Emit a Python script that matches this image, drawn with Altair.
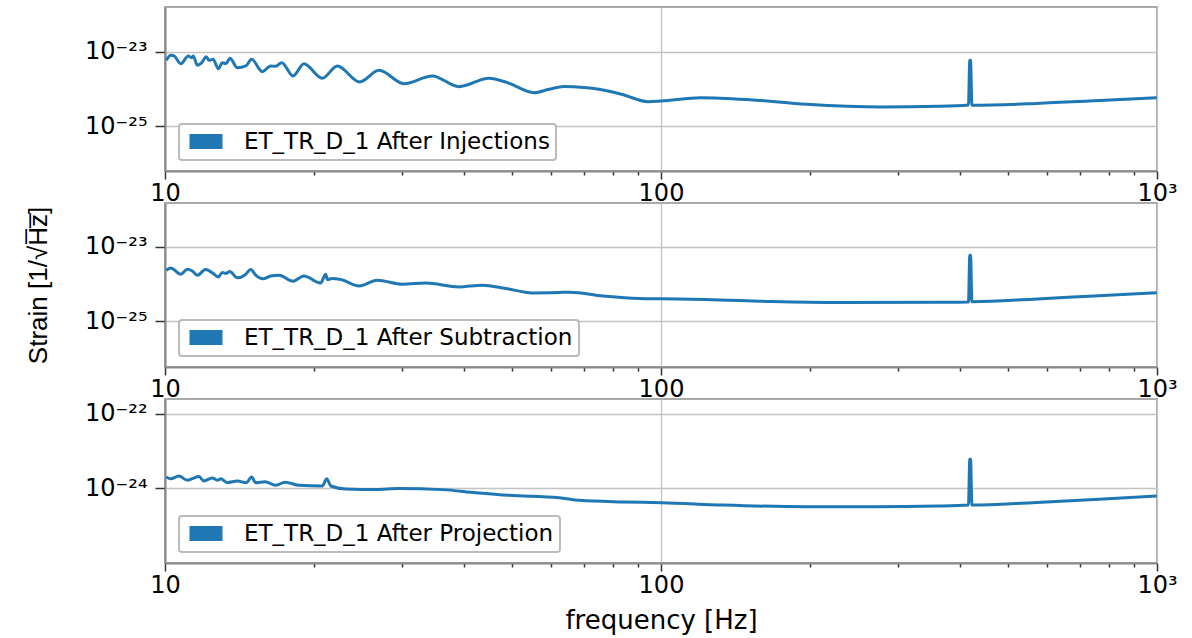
import math
import altair as alt
import pandas as pd

# ---------------- data ----------------
LABELS = [
    "ET_TR_D_1 After Injections",
    "ET_TR_D_1 After Subtraction",
    "ET_TR_D_1 After Projection",
]

FREQ_INJ = [10.06, 10.27, 10.43, 10.76, 11.14, 11.32, 11.40, 11.62, 11.86, 12.11,
            12.27, 12.50, 12.81, 13.05, 13.26, 13.52, 13.99, 14.55, 14.95, 15.71,
            16.34, 16.72, 17.19, 18.12, 19.06, 20.75, 22.25, 24.69, 27.01, 30.33,
            34.59, 39.14, 45.00, 48.98, 55.46, 59.46, 63.74, 69.95, 74.99, 83.29,
            94.15, 100.1, 120.3, 151.1, 196.5, 279.0, 362.8, 416.8, 419.3, 420.8,
            423.5, 562.3, 729.4, 998.6]
STRAIN_INJ = [5.88e-24, 8.0e-24, 7.67e-24, 4.76e-24, 7.67e-24, 6.9e-24, 7.67e-24, 4.31e-24, 5.07e-24, 7.35e-24,
              5.88e-24, 6.25e-24, 3.50e-24, 5.07e-24, 4.76e-24, 6.65e-24, 3.72e-24, 4.14e-24, 6.25e-24, 2.91e-24,
              4.14e-24, 4.06e-24, 5.07e-24, 2.23e-24, 4.76e-24, 1.94e-24, 4.14e-24, 1.54e-24, 3.17e-24, 1.39e-24,
              2.23e-24, 1.15e-24, 1.94e-24, 1.48e-24, 7.96e-25, 9.82e-25, 1.17e-24, 1.10e-24, 9.82e-25, 7.21e-25,
              4.57e-25, 4.76e-25, 5.85e-25, 5.16e-25, 3.89e-25, 3.29e-25, 3.43e-25, 3.72e-25, 5.88e-24, 5.88e-24,
              3.66e-25, 4.04e-25, 4.76e-25, 5.85e-25]

FREQ_SUB = [10.06, 10.27, 10.76, 11.09, 11.35, 11.62, 12.08, 12.46, 12.81, 13.05,
            13.26, 13.51, 13.99, 14.50, 14.89, 15.24, 15.76, 16.34, 16.98, 18.12,
            19.06, 20.59, 21.09, 21.25, 21.75, 22.60, 24.62, 26.78, 30.12, 33.55,
            39.14, 43.66, 48.66, 55.04, 62.32, 65.33, 77.43, 90.40, 100.3, 123.0,
            167.0, 229.3, 362.8, 416.8, 419.3, 420.8, 423.5, 562.3, 729.4, 998.6]
STRAIN_SUB = [2.37e-24, 2.74e-24, 1.85e-24, 2.52e-24, 2.27e-24, 1.74e-24, 2.48e-24, 2.01e-24, 1.57e-24, 2.06e-24,
              1.94e-24, 2.19e-24, 1.48e-24, 1.77e-24, 2.48e-24, 1.74e-24, 1.39e-24, 1.67e-24, 1.74e-24, 1.20e-24,
              1.67e-24, 1.08e-24, 1.85e-24, 1.34e-24, 1.42e-24, 1.34e-24, 9.0e-25, 1.28e-24, 1.0e-24, 1.08e-24,
              8.47e-25, 9.4e-25, 7.67e-25, 5.85e-25, 5.99e-25, 6.1e-25, 4.76e-25, 4.14e-25, 4.04e-25, 3.89e-25,
              3.43e-25, 3.23e-25, 3.29e-25, 3.35e-25, 5.98e-24, 5.98e-24, 3.4e-25, 3.96e-25, 4.76e-25, 5.91e-25]

FREQ_PRO = [10.06, 10.27, 10.67, 11.09, 11.35, 11.71, 11.98, 12.46, 12.75, 12.95,
            13.35, 13.99, 14.59, 14.95, 15.24, 15.91, 16.72, 17.46, 18.62, 20.75,
            21.19, 21.59, 23.14, 26.59, 29.67, 36.22, 42.31, 49.42, 62.32, 68.48,
            83.66, 100.3, 133.2, 196.6, 267.2, 362.8, 416.8, 419.3, 420.8, 423.5,
            560.0, 763.8, 998.6]
STRAIN_PRO = [2.01e-24, 1.81e-24, 2.14e-24, 1.64e-24, 1.81e-24, 2.05e-24, 1.57e-24, 1.89e-24, 1.64e-24, 1.81e-24,
              1.41e-24, 1.57e-24, 1.41e-24, 2.01e-24, 1.41e-24, 1.50e-24, 1.20e-24, 1.45e-24, 1.20e-24, 1.15e-24,
              1.81e-24, 1.15e-24, 9.6e-25, 9.3e-25, 9.8e-25, 9.2e-25, 7.62e-25, 6.49e-25, 5.6e-25, 4.76e-25,
              4.3e-25, 4.11e-25, 3.56e-25, 3.21e-25, 3.21e-25, 3.35e-25, 3.56e-25, 5.98e-24, 5.98e-24, 3.56e-25,
              4.11e-25, 5.07e-25, 6.22e-25]

X_TICKS = [10, 20, 30, 40, 50, 60, 70, 80, 90, 100, 200, 300, 400, 500, 600, 700, 800, 900, 1000]
X_MAJOR = [10, 100, 1000]
X_MAJOR_LABELS = ["10", "100", "10³"]

Y_TICKS = [[1e-23, 1e-25], [1e-23, 1e-25], [1e-22, 1e-24]]
Y_TICK_LABELS = [["10⁻²³", "10⁻²⁵"], ["10⁻²³", "10⁻²⁵"], ["10⁻²²", "10⁻²⁴"]]
Y_DOMAINS = [[6.3e-27, 1.58e-22], [6.0e-27, 1.51e-22], [1.0e-26, 2.45e-22]]

X_TITLE = "frequency [Hz]"
Y_TITLE = "Strain [1/√H̅z̅]"
LINE_COLOR = "#1f77b4"

# ---------------- chart ----------------
W, H = 992, 164


def value_label_expr(values, labels):
    expr = "''"
    for v, lab in zip(values, labels):
        e = math.log10(v)
        expr = f"(abs(log(datum.value)/LN10 - ({e})) < 0.01 ? '{lab}' : {expr})"
    return expr


major_test = " || ".join(f"abs(log(datum.value)/LN10 - {math.log10(v)}) < 0.001" for v in X_MAJOR)


def panel(i, freq, strain, x_title=False, y_title=False):
    df = pd.DataFrame({"freq": freq, "strain": strain, "series": LABELS[i]})
    x_axis = alt.Axis(
        values=X_TICKS,
        labelExpr=value_label_expr(X_MAJOR, X_MAJOR_LABELS),
        tickSize={"condition": {"test": major_test, "value": 8}, "value": 4},
        gridOpacity={"condition": {"test": major_test, "value": 1}, "value": 0},
        labelPadding=2,
        titlePadding=10,
    )
    y_kwargs = dict(
        values=Y_TICKS[i],
        labelExpr=value_label_expr(Y_TICKS[i], Y_TICK_LABELS[i]),
        tickSize=10,
        labelPadding=8,
    )
    if y_title:
        y_kwargs.update(titleFont="Liberation Sans", titleFontSize=26, titleX=-114, titleY=82)
    y_axis = alt.Axis(**y_kwargs)
    return (
        alt.Chart(df)
        .mark_line(strokeWidth=3, interpolate="monotone")
        .encode(
            x=alt.X("freq:Q", scale=alt.Scale(type="log", domain=[10, 1000], nice=False),
                    axis=x_axis, title=X_TITLE if x_title else None),
            y=alt.Y("strain:Q", scale=alt.Scale(type="log", domain=Y_DOMAINS[i], nice=False),
                    axis=y_axis, title=Y_TITLE if y_title else None),
            color=alt.Color("series:N", scale=alt.Scale(domain=[LABELS[i]], range=[LINE_COLOR]),
                            legend=alt.Legend(title=None, orient="none", legendX=14, legendY=H - 11 - 36)),
        )
        .properties(width=W, height=H)
    )


chart = (
    alt.vconcat(
        panel(0, FREQ_INJ, STRAIN_INJ),
        panel(1, FREQ_SUB, STRAIN_SUB, y_title=True),
        panel(2, FREQ_PRO, STRAIN_PRO, x_title=True),
        spacing=32,
        bounds="flush",
    )
    .resolve_scale(color="independent")
    .resolve_legend(color="independent")
    .properties(padding={"left": 24, "top": 6, "right": 10, "bottom": 5})
    .configure_view(stroke="#aaaaaa", strokeWidth=2)
    .configure_axis(
        labelFont="DejaVu Sans", labelFontSize=24, labelColor="black",
        titleFont="DejaVu Sans", titleFontSize=26, titleColor="black", titleFontWeight="normal",
        domainColor="#888888", domainWidth=2,
        gridColor="#c4c4c4", gridWidth=1.3,
        tickColor="#333333", tickWidth=1.5,
        labelFlush=False, labelOverlap=False,
    )
    .configure_legend(
        strokeColor="#bbbbbb", strokeWidth=2, fillColor="white", padding=6, cornerRadius=3,
        labelFont="DejaVu Sans", labelFontSize=23, labelColor="black", labelLimit=800,
        symbolType="M-0.7,-0.75H2.6V0.75H-0.7Z", symbolSize=400,
        symbolFillColor=LINE_COLOR, symbolStrokeColor=LINE_COLOR, symbolStrokeWidth=0,
        labelOffset=36,
    )
)

chart.save("out.html", embed_options={"renderer": "svg", "actions": False})
